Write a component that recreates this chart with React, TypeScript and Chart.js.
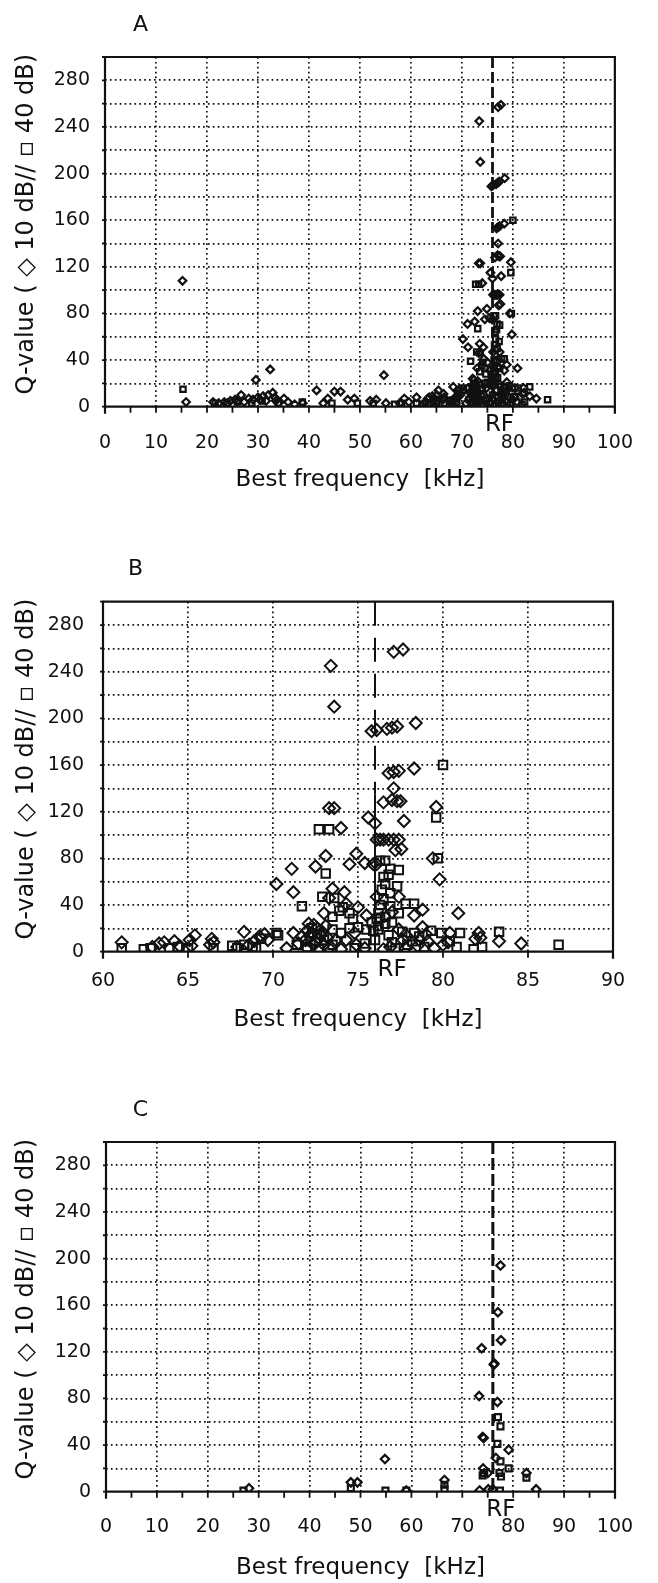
import React, { useEffect, useRef } from 'react';
import { Chart, registerables } from 'chart.js';

Chart.register(...registerables);

const FONT = 'DejaVu Sans';
const INK = '#111';
const PAGE_W = 658;
const RF_KHZ = 76.0;
const Y_MAX = 300;
const Y_GRID_STEP = 20;
const Y_LABEL_STEP = 40;
const Y_TITLE = '  Q-value ( \u25C7 10 dB// \u25AB 40 dB)';
const X_TITLE = 'Best frequency  [kHz]';

// ---- Panels A and B (same population; B is the 60-90 kHz enlargement) ----
// Q-10dB values (diamonds), [best frequency kHz, Q]
const abQ10Below60: [number, number][] = [
  [15.2, 108], [15.9, 4], [21.2, 4], [22.3, 3], [23.4, 4], [24.0, 3], [24.6, 5], [25.5, 6], [26.0, 5],
  [26.7, 10], [27.3, 4], [28.2, 7], [29.0, 6], [29.6, 23], [30.0, 8], [30.4, 6], [31.0, 9], [31.6, 5],
  [32.0, 10], [32.4, 32], [32.9, 12], [33.3, 8], [33.5, 5], [34.0, 3], [35.1, 7], [35.9, 4], [37.2, 2],
  [38.8, 3], [41.5, 14], [42.8, 3], [43.7, 7], [45.0, 13], [46.2, 13], [47.6, 6], [48.9, 7], [52.0, 5],
  [53.2, 6], [54.7, 27], [55.1, 3], [57.8, 3], [58.7, 7], [59.6, 4],
];
const abQ10From60To70: [number, number][] = [
  [61.1, 8], [62.9, 4], [63.3, 7], [63.6, 8], [64.2, 9], [64.5, 5], [65.1, 10], [65.4, 14], [65.2, 5],
  [66.4, 11], [66.5, 8], [66.3, 6], [67.9, 4], [68.3, 17], [68.6, 6], [68.9, 9], [69.2, 13], [69.5, 15],
  [69.7, 10], [70.2, 58],
];
const abQ10Peak: [number, number][] = [
  [73.4, 245], [73.6, 210], [77.1, 257], [77.65, 259],
  [75.8, 189], [76.1, 190], [76.7, 191], [77.0, 192], [77.3, 193], [78.4, 196],
  [76.8, 153], [77.1, 154], [77.4, 155], [78.3, 157], [77.1, 140],
  [76.5, 128], [77.0, 130], [77.3, 129], [77.5, 129],
  [73.3, 123], [73.6, 123], [79.6, 124], [75.6, 115], [76.0, 110], [77.7, 112], [74.0, 106],
  [76.1, 96], [76.3, 96], [76.5, 96], [76.8, 96], [77.1, 96], [77.4, 96], [77.2, 87], [77.55, 88],
  [73.1, 82], [74.9, 84], [74.5, 75], [75.4, 76], [75.9, 75], [76.1, 75], [79.4, 80],
  [71.1, 71], [72.5, 73], [79.8, 62], [71.2, 51], [73.5, 54], [74.2, 51], [73.3, 46],
  [76.1, 47], [77.4, 47], [74.3, 41], [75.0, 38], [73.0, 33], [75.5, 31], [78.3, 31], [78.8, 36],
  [80.9, 33], [77.0, 34],
  [72.1, 24], [72.4, 23], [72.6, 20], [73.1, 22], [74.8, 16], [77.4, 19], [78.8, 21], [80.4, 16],
  [82.1, 16], [71.2, 16], [72.3, 16], [72.8, 14],
  [71.9, 10], [72.5, 9], [73.0, 6], [73.7, 10], [74.3, 10], [74.9, 6], [75.4, 3], [76.5, 2], [77.65, 10],
  [79.1, 9], [80.0, 6], [80.3, 8], [81.9, 11], [82.2, 12], [83.3, 9], [84.6, 7], [78.5, 5], [70.8, 3],
  [71.5, 7], [72.0, 3], [73.3, 3], [74.0, 2], [76.9, 4], [77.8, 3], [79.5, 3],
  [72.0, 18], [72.2, 13], [72.7, 11], [72.9, 17], [73.2, 12], [72.4, 6], [71.7, 13], [77.9, 13],
  [78.6, 10], [79.0, 15],
];
// Q-40dB values (squares)
const abQ40Below60: [number, number][] = [
  [15.3, 15], [21.6, 3], [23.9, 3], [26.0, 4], [28.8, 3], [30.8, 5], [34.0, 3], [38.7, 4], [44.5, 3],
  [49.5, 3], [52.6, 3], [56.8, 2], [58.2, 3],
];
const abQ40From60To70: [number, number][] = [
  [61.1, 3], [62.4, 2], [62.8, 3], [63.9, 3], [64.4, 4], [65.0, 3], [66.5, 3], [67.6, 5], [67.9, 3],
  [68.3, 6], [68.8, 4], [69.3, 11], [69.0, 3], [70.3, 14],
];
const abQ40Peak: [number, number][] = [
  [80.0, 160], [79.6, 115], [72.7, 105], [73.3, 105], [79.7, 80], [73.1, 67],
  [76.3, 78], [76.6, 78], [76.9, 71], [77.4, 70], [76.5, 64], [76.8, 66], [76.6, 58], [76.4, 53],
  [77.3, 56], [76.9, 50], [76.5, 45], [76.3, 40], [76.9, 39], [77.8, 41], [78.3, 41], [76.2, 33],
  [76.6, 30], [77.4, 33], [76.1, 28], [76.2, 22], [77.0, 25], [72.9, 47], [73.6, 46], [71.7, 39],
  [73.5, 30], [74.5, 33], [74.7, 28], [73.9, 35], [74.1, 38],
  [70.2, 16], [73.5, 19], [74.0, 16], [74.5, 20], [75.0, 21], [75.5, 19], [76.3, 29], [76.6, 24],
  [76.2, 19], [76.8, 14], [77.6, 17], [78.3, 16], [79.3, 18], [79.9, 16], [81.0, 16], [83.3, 17],
  [78.2, 9], [80.4, 9], [82.3, 4], [86.8, 6], [71.4, 6], [72.0, 4], [73.5, 6], [75.4, 7], [72.7, 2],
  [74.8, 3], [75.8, 25], [75.9, 18], [76.0, 10], [77.2, 3], [78.9, 4], [80.8, 4], [81.8, 2],
  [72.2, 9], [72.6, 15], [73.0, 10], [72.3, 20], [77.9, 6], [78.6, 13], [77.0, 8],
];

// ---- Panel C ----
const cQ10: [number, number][] = [
  [77.5, 194], [77.0, 154], [77.6, 130], [73.8, 123], [76.2, 109], [76.3, 110], [73.3, 82], [76.9, 77],
  [74.0, 47], [74.2, 46], [79.1, 36], [76.6, 29], [54.8, 28], [74.1, 20], [75.0, 16], [82.6, 16],
  [66.5, 10], [48.1, 8], [49.4, 8], [28.1, 3], [84.5, 2], [59.0, 1], [73.4, 1], [75.1, 2], [76.0, 2],
];
const cQ40: [number, number][] = [
  [77.0, 64], [77.5, 56], [76.9, 41], [77.5, 26], [74.3, 16], [77.3, 16], [77.6, 13], [79.1, 20],
  [82.6, 12], [66.5, 6], [66.5, 2], [48.1, 3], [27.0, 1], [54.9, 1], [59.0, 1], [77.4, 1], [74.0, 14],
];

type Pair = [number, number];
interface PanelCfg {
  letter: string; letterX: number;
  top: number; height: number; chartTop: number; zeroY: number; left: number; right: number;
  xMin: number; xMax: number; xStep: number; minorStep: number;
  q10: Pair[]; q40: Pair[];
  r: number; bw: number;
  xTickPad: number; yTickPad: number; axisH: number;
  rfDx: number; rfDash: number[]; rfWidth: number; rfSolidFrom: number | null;
}

const panels: PanelCfg[] = [
  {
    letter: 'A', letterX: 140.5, top: 0, height: 545, chartTop: 57, zeroY: 406.7, left: 105, right: 617,
    xMin: 0, xMax: 100, xStep: 10, minorStep: 5,
    q10: [...abQ10Below60, ...abQ10From60To70, ...abQ10Peak], q40: [...abQ40Below60, ...abQ40From60To70, ...abQ40Peak],
    r: 3.8, bw: 2.2, xTickPad: 25, yTickPad: 15, axisH: 88,
    rfDx: 7, rfDash: [11, 4], rfWidth: 2.8, rfSolidFrom: null,
  },
  {
    letter: 'B', letterX: 135.5, top: 545, height: 540, chartTop: 56.7, zeroY: 406.7, left: 103, right: 613,
    xMin: 60, xMax: 90, xStep: 5, minorStep: 5,
    q10: [...abQ10From60To70, ...abQ10Peak], q40: [...abQ40From60To70, ...abQ40Peak],
    r: 6, bw: 2, xTickPad: 18, yTickPad: 19, axisH: 83,
    rfDx: 17, rfDash: [24, 12], rfWidth: 2, rfSolidFrom: 135,
  },
  {
    letter: 'C', letterX: 140.5, top: 1085, height: 498, chartTop: 57, zeroY: 406.7, left: 106, right: 615,
    xMin: 0, xMax: 100, xStep: 10, minorStep: 5,
    q10: cQ10, q40: cQ40,
    r: 4.2, bw: 2.2, xTickPad: 24, yTickPad: 15, axisH: 91,
    rfDx: 8, rfDash: [12, 4], rfWidth: 3, rfSolidFrom: null,
  },
];

const framePlugin = {
  id: 'frame',
  beforeDatasetsDraw(chart: any, _a: any, o: any) {
    const { ctx, chartArea: a, scales } = chart;
    const xs = scales.x, ys = scales.y;
    ctx.save();
    ctx.strokeStyle = INK;
    ctx.lineWidth = 2.2;
    ctx.beginPath();
    ctx.moveTo(a.left, a.bottom + 7); ctx.lineTo(a.left, a.top); ctx.lineTo(a.right, a.top); ctx.lineTo(a.right, a.bottom + 7);
    ctx.moveTo(a.left, a.bottom); ctx.lineTo(a.right, a.bottom);
    ctx.stroke();
    ctx.lineWidth = 1.8;
    ctx.beginPath();
    for (let v = xs.min; v <= xs.max + 1e-9; v += o.minorStep) {
      const px = xs.getPixelForValue(v);
      ctx.moveTo(px, a.bottom); ctx.lineTo(px, a.bottom + 6);
    }
    for (let v = 0; v <= Y_MAX; v += Y_GRID_STEP) {
      const py = ys.getPixelForValue(v);
      ctx.moveTo(a.left - 3, py); ctx.lineTo(a.left, py);
    }
    ctx.stroke();
    const rx = xs.getPixelForValue(RF_KHZ);
    const ySolid = o.rfSolidFrom != null ? ys.getPixelForValue(o.rfSolidFrom) : a.bottom;
    ctx.lineWidth = o.rfWidth;
    ctx.setLineDash(o.rfDash);
    ctx.beginPath(); ctx.moveTo(rx, a.top); ctx.lineTo(rx, ySolid); ctx.stroke();
    if (ySolid < a.bottom) {
      ctx.setLineDash([]);
      ctx.beginPath(); ctx.moveTo(rx, ySolid); ctx.lineTo(rx, a.bottom); ctx.stroke();
    }
    ctx.restore();
  },
  afterDraw(chart: any, _a: any, o: any) {
    const { ctx, chartArea: a, scales } = chart;
    ctx.save();
    ctx.fillStyle = INK;
    ctx.textAlign = 'center';
    ctx.textBaseline = 'middle';
    ctx.font = `22px "${FONT}"`;
    ctx.fillText(o.letter, o.letterX, a.top - 32);
    ctx.font = `23px "${FONT}"`;
    ctx.fillText('RF', scales.x.getPixelForValue(RF_KHZ) + o.rfDx, a.bottom + 18);
    ctx.restore();
  },
};

const gridColor = (c: any) => {
  const s = c.scale;
  if (!c.tick) return INK;
  return c.tick.value === s.min || c.tick.value === s.max ? 'rgba(0,0,0,0)' : INK;
};

function Panel({ cfg }: { cfg: PanelCfg }) {
  const ref = useRef<HTMLCanvasElement>(null);
  useEffect(() => {
    const toPts = (arr: Pair[]) => arr.map(([x, y]) => ({ x, y }));
    const chart = new Chart(ref.current as HTMLCanvasElement, {
      type: 'scatter',
      data: {
        datasets: [
          {
            label: 'Q10', data: toPts(cfg.q10), pointStyle: 'rectRot', pointRadius: cfg.r, pointBorderWidth: cfg.bw,
            borderColor: INK, backgroundColor: 'rgba(0,0,0,0)', pointHoverRadius: cfg.r,
            clip: { left: 12, right: 12, top: 12, bottom: 0 } as any,
          },
          {
            label: 'Q40', data: toPts(cfg.q40), pointStyle: 'rect', pointRadius: cfg.r, pointBorderWidth: cfg.bw,
            borderColor: INK, backgroundColor: 'rgba(0,0,0,0)', pointHoverRadius: cfg.r,
            clip: { left: 12, right: 12, top: 12, bottom: 0 } as any,
          },
        ],
      },
      options: {
        animation: false,
        responsive: false,
        devicePixelRatio: 1,
        events: [],
        layout: {
          padding: { left: 0, top: cfg.chartTop, right: PAGE_W - cfg.right, bottom: cfg.height - cfg.zeroY - cfg.axisH },
        },
        plugins: {
          legend: { display: false },
          tooltip: { enabled: false },
          frame: {
            letter: cfg.letter, letterX: cfg.letterX, minorStep: cfg.minorStep, rfDx: cfg.rfDx,
            rfDash: cfg.rfDash, rfWidth: cfg.rfWidth, rfSolidFrom: cfg.rfSolidFrom,
          },
        } as any,
        scales: {
          x: {
            type: 'linear', min: cfg.xMin, max: cfg.xMax,
            afterFit: (s: any) => { s.height = cfg.axisH; },
            ticks: {
              stepSize: cfg.xStep, autoSkip: false, maxRotation: 0, padding: cfg.xTickPad, color: INK,
              font: { family: FONT, size: 19 },
            },
            grid: { color: gridColor, lineWidth: 1.7, drawTicks: false },
            border: { display: false, dash: [1.7, 3.2] },
            title: {
              display: true, text: X_TITLE, color: INK, font: { family: FONT, size: 23 },
              padding: { top: 0, bottom: 1 },
            },
          },
          y: {
            type: 'linear', min: 0, max: Y_MAX,
            afterFit: (s: any) => { s.width = cfg.left; },
            ticks: {
              stepSize: Y_GRID_STEP, autoSkip: false, padding: cfg.yTickPad, color: INK,
              font: { family: FONT, size: 19 },
              callback: (v: any) => (v % Y_LABEL_STEP === 0 && v < Y_MAX ? String(v) : ''),
            },
            grid: { color: gridColor, lineWidth: 1.7, drawTicks: false },
            border: { display: false, dash: [1.7, 3.2] },
            title: {
              display: true, text: Y_TITLE, color: INK, font: { family: FONT, size: 24 },
              padding: { top: 12, bottom: 0 },
            },
          },
        },
      },
      plugins: [framePlugin as any],
    });
    return () => chart.destroy();
  }, [cfg]);
  return (
    <canvas
      ref={ref}
      width={PAGE_W}
      height={cfg.height}
      style={{ position: 'absolute', left: 0, top: cfg.top, width: PAGE_W, height: cfg.height, display: 'block' }}
    />
  );
}

export default function App() {
  return (
    <div style={{ position: 'absolute', left: 0, top: 0, width: PAGE_W, height: 1583, background: '#fff', overflow: 'hidden' }}>
      {panels.map((p) => (
        <Panel key={p.letter} cfg={p} />
      ))}
    </div>
  );
}
